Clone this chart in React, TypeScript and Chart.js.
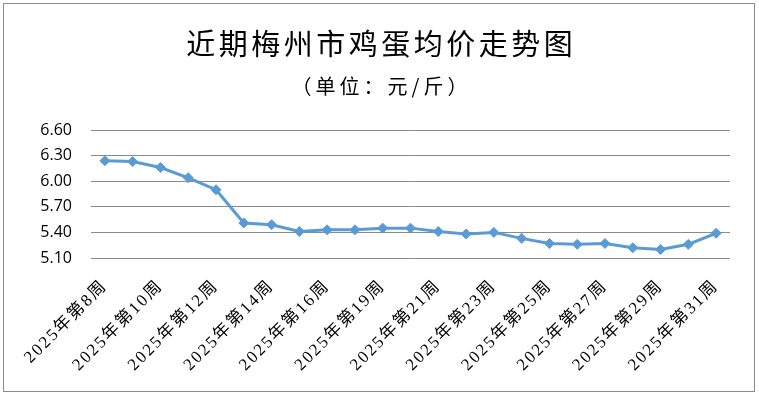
import React, { useEffect, useRef } from "react";
import { Chart, registerables } from "chart.js";

Chart.register(...registerables);

const TITLE = "近期梅州市鸡蛋均价走势图";
const SUBTITLE = "（单位：元/斤）";

const weeks: number[] = [8, 9, 10, 11, 12, 13, 14, 15, 16, 17, 19, 20, 21, 22, 23, 24, 25, 26, 27, 28, 29, 30, 31];
const categories: string[] = weeks.map((w) => `2025年第${w}周`);
const prices: number[] = [
  6.24, 6.23, 6.16, 6.04, 5.9, 5.51, 5.49, 5.41, 5.43, 5.43, 5.45, 5.45,
  5.41, 5.38, 5.4, 5.33, 5.27, 5.26, 5.27, 5.22, 5.2, 5.26, 5.39,
];
const yMin = 5.1;
const yMax = 6.6;
const yStep = 0.3;

export default function App() {
  const ref = useRef<HTMLCanvasElement | null>(null);

  useEffect(() => {
    const canvas = ref.current;
    if (!canvas) return;
    const chart = new Chart(canvas, {
      type: "line",
      data: {
        labels: categories,
        datasets: [
          {
            data: prices,
            borderColor: "#5B9BD5",
            backgroundColor: "#5B9BD5",
            borderWidth: 3,
            pointStyle: "rectRot",
            pointRadius: 5,
            pointBorderWidth: 1,
            pointBorderColor: "#5B9BD5",
            tension: 0,
          },
        ],
      },
      options: {
        responsive: false,
        animation: false,
        events: [],
        layout: { padding: { left: 0, right: 29, top: 130, bottom: 0 } },
        plugins: {
          legend: { display: false },
          title: { display: false },
          tooltip: { enabled: false },
        },
        scales: {
          x: {
            offset: true,
            grid: { display: false, drawTicks: false },
            border: { display: false },
            afterFit: (s: any) => {
              s.height = 136;
            },
            ticks: {
              autoSkip: false,
              maxRotation: 45,
              minRotation: 45,
              padding: 18,
              color: "#000",
              font: { family: "'Liberation Serif', 'Noto Sans CJK SC'", size: 17 },
              callback: (_v: any, i: number) => (i % 2 === 0 ? categories[i] : ""),
            },
          },
          y: {
            min: yMin,
            max: yMax,
            grid: { color: "#8a8a8a", lineWidth: 1, drawTicks: false },
            border: { display: false },
            afterFit: (s: any) => {
              s.width = 91;
            },
            ticks: {
              stepSize: yStep,
              padding: 19,
              color: "#000",
              font: { family: "'Open Sans', 'Liberation Sans'", size: 16 },
              callback: (v: any) => Number(v).toFixed(2),
            },
          },
        },
      },
    });
    const xs: any = chart.scales.x;
    const ctx = chart.ctx as any;
    const orig = xs.drawLabels.bind(xs);
    xs.drawLabels = (ca: any) => {
      ctx.letterSpacing = "2px";
      orig(ca);
      ctx.letterSpacing = "0px";
    };
    chart.draw();
    return () => chart.destroy();
  }, []);

  return (
    <div style={{ position: "absolute", left: 0, top: 0, width: 759, height: 394, background: "#fff" }}>
      <canvas ref={ref} width={759} height={394} style={{ position: "absolute", left: 0, top: 0 }} />
      <div
        style={{
          position: "absolute",
          left: 3,
          top: 3,
          width: 750,
          height: 387,
          border: "1px solid #8c8c8c",
          pointerEvents: "none",
        }}
      />
      <div
        style={{
          position: "absolute",
          left: 0,
          width: 759,
          top: 22,
          textAlign: "center",
          fontFamily: "'Noto Sans CJK SC'",
          fontSize: 29,
          lineHeight: "40px",
          letterSpacing: "3.5px",
          textIndent: "3.5px",
          color: "#000",
        }}
      >
        {TITLE}
      </div>
      <div
        style={{
          position: "absolute",
          left: 0,
          width: 759,
          top: 72,
          textAlign: "center",
          fontFamily: "'Noto Sans CJK SC'",
          fontSize: 20,
          lineHeight: "28px",
          letterSpacing: "4px",
          textIndent: "4px",
          color: "#000",
        }}
      >
        {SUBTITLE}
      </div>
    </div>
  );
}
